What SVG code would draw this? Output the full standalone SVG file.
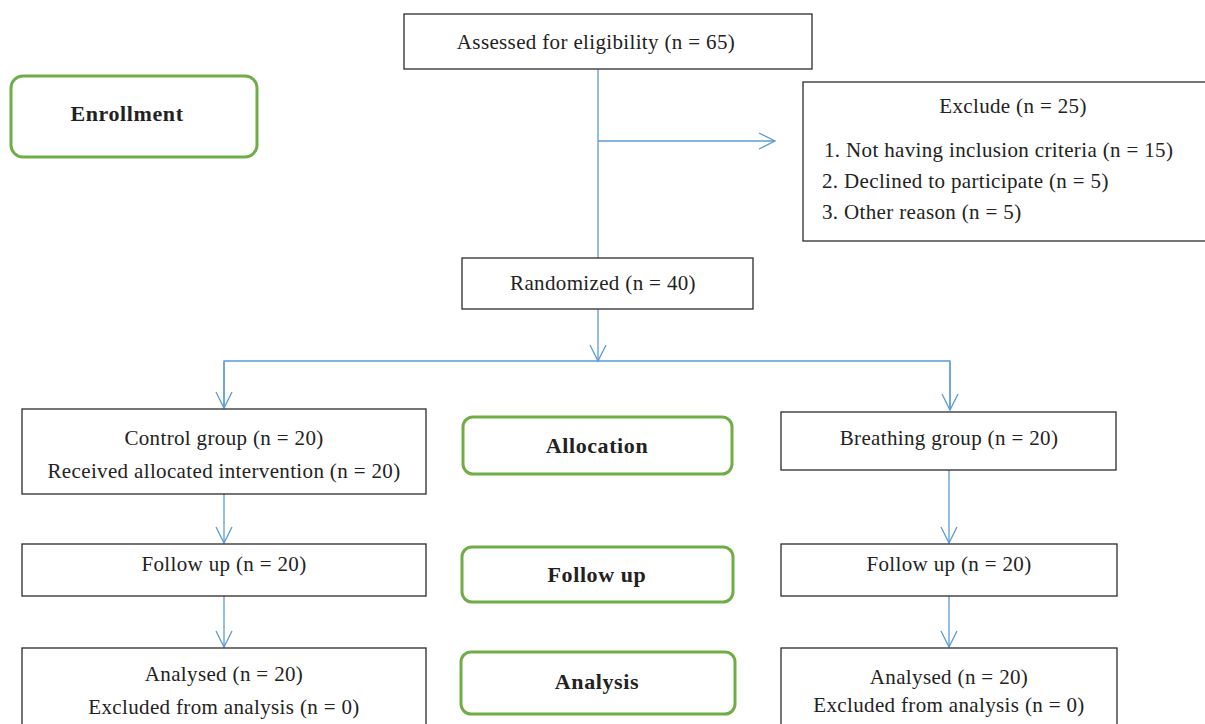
<svg xmlns="http://www.w3.org/2000/svg" width="1205" height="724" viewBox="0 0 1205 724">
<style>
.box{fill:#fff;stroke:#2b2b2b;stroke-width:1.3}
.phase{fill:#fff;stroke:#70ad47;stroke-width:3}
.t{font-family:"Liberation Serif","DejaVu Serif",serif;font-size:21px;letter-spacing:0.35px;fill:#222;text-anchor:middle}
.tl{font-family:"Liberation Serif","DejaVu Serif",serif;font-size:21px;letter-spacing:0.35px;fill:#222}
.b{font-family:"Liberation Serif","DejaVu Serif",serif;font-size:22px;letter-spacing:0.6px;font-weight:bold;fill:#222;text-anchor:middle}
.c{fill:none;stroke:#5b9bd5;stroke-width:1.3}
</style>
<defs>
<marker id="ah" markerUnits="userSpaceOnUse" markerWidth="18" markerHeight="18" refX="16" refY="8" orient="auto" overflow="visible">
<path d="M0,0 L16,8 L0,16" fill="none" stroke="#5b9bd5" stroke-width="1.3"/>
</marker>
</defs>
<g id="connectors">
<line class="c" x1="598" y1="69" x2="598" y2="258"/>
<line class="c" x1="598" y1="141" x2="775" y2="141" marker-end="url(#ah)"/>
<line class="c" x1="598" y1="309" x2="598" y2="361" marker-end="url(#ah)"/>
<polyline class="c" points="224,408 224,361 950,361 950,408"/>
<line class="c" x1="224" y1="362" x2="224" y2="408" marker-end="url(#ah)"/>
<line class="c" x1="950" y1="362" x2="950" y2="410" marker-end="url(#ah)"/>
<line class="c" x1="224" y1="494" x2="224" y2="543" marker-end="url(#ah)"/>
<line class="c" x1="949" y1="470" x2="949" y2="543" marker-end="url(#ah)"/>
<line class="c" x1="224" y1="596" x2="224" y2="647" marker-end="url(#ah)"/>
<line class="c" x1="949" y1="596" x2="949" y2="647" marker-end="url(#ah)"/>
</g>
<g id="enrollment">
<rect class="phase" x="11" y="76" width="246" height="81" rx="12"/>
<text class="b" x="127" y="121">Enrollment</text>
</g>
<g id="assessed">
<rect class="box" x="404" y="14" width="408" height="55"/>
<text class="t" x="596" y="49">Assessed for eligibility (n = 65)</text>
</g>
<g id="exclude">
<rect class="box" x="803" y="82" width="410" height="159"/>
<text class="t" x="1013" y="113">Exclude (n = 25)</text>
<text class="tl" x="824" y="157">1. Not having inclusion criteria (n = 15)</text>
<text class="tl" x="822" y="188">2. Declined to participate (n = 5)</text>
<text class="tl" x="822" y="219">3. Other reason (n = 5)</text>
</g>
<g id="randomized">
<rect class="box" x="462" y="258" width="291" height="51"/>
<text class="t" x="603" y="290">Randomized (n = 40)</text>
</g>
<g id="control">
<rect class="box" x="22" y="409" width="404" height="85"/>
<text class="t" x="224" y="445">Control group (n = 20)</text>
<text class="t" x="224" y="478">Received allocated intervention (n = 20)</text>
</g>
<g id="allocation">
<rect class="phase" x="463" y="417" width="269" height="57" rx="10"/>
<text class="b" x="597" y="453">Allocation</text>
</g>
<g id="breathing">
<rect class="box" x="781" y="412" width="335" height="58"/>
<text class="t" x="949" y="445">Breathing group (n = 20)</text>
</g>
<g id="followup-left">
<rect class="box" x="22" y="544" width="404" height="52"/>
<text class="t" x="224" y="571">Follow up (n = 20)</text>
</g>
<g id="followup-phase">
<rect class="phase" x="462" y="547" width="271" height="55" rx="10"/>
<text class="b" x="597" y="582">Follow up</text>
</g>
<g id="followup-right">
<rect class="box" x="781" y="544" width="336" height="52"/>
<text class="t" x="949" y="571">Follow up (n = 20)</text>
</g>
<g id="analysed-left">
<rect class="box" x="22" y="648" width="404" height="90"/>
<text class="t" x="224" y="681">Analysed (n = 20)</text>
<text class="t" x="224" y="714">Excluded from analysis (n = 0)</text>
</g>
<g id="analysis-phase">
<rect class="phase" x="461" y="652" width="274" height="62" rx="10"/>
<text class="b" x="597" y="689">Analysis</text>
</g>
<g id="analysed-right">
<rect class="box" x="781" y="648" width="336" height="90"/>
<text class="t" x="949" y="684">Analysed (n = 20)</text>
<text class="t" x="949" y="712">Excluded from analysis (n = 0)</text>
</g>
</svg>
